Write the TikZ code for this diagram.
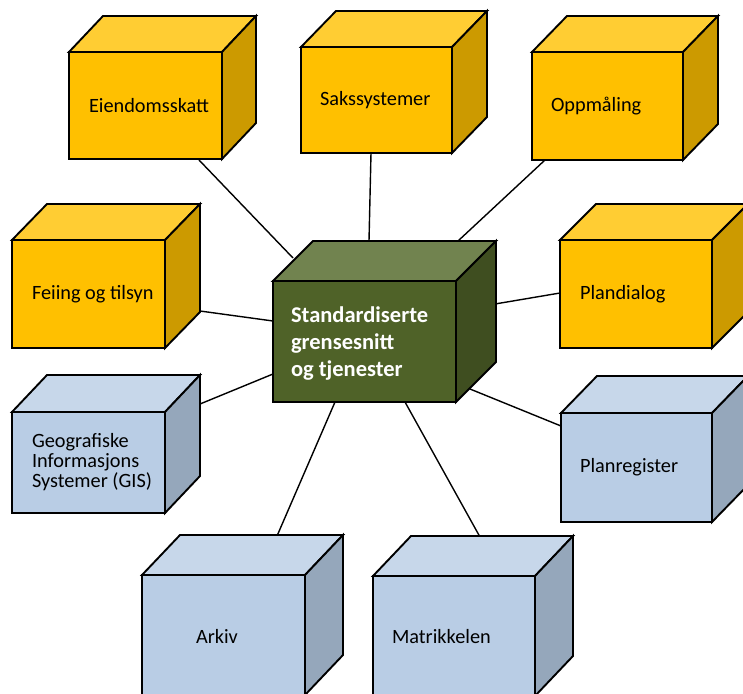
\documentclass[tikz,border=0pt]{standalone}
\usepackage{fontspec}
\setmainfont{Carlito}
\definecolor{orfront}{HTML}{FFC000}
\definecolor{ortop}{HTML}{FFCD33}
\definecolor{orside}{HTML}{CC9A00}
\definecolor{blfront}{HTML}{B9CDE5}
\definecolor{bltop}{HTML}{C7D7EA}
\definecolor{blside}{HTML}{95A7BB}
\definecolor{grfront}{HTML}{4F6228}
\definecolor{grtop}{HTML}{71834F}
\definecolor{grside}{HTML}{3F4E20}
\tikzset{
  edge/.style={draw=black, line width=1.9pt, line join=miter},
  face/.style={edge, inner sep=0pt, outer sep=0pt, anchor=north west, align=left,
     font=\fontsize{20.3}{20}\selectfont, text=black},
  conn/.style={draw=black, line width=1.4pt},
}
% #1 name, #2 x, #3 y, #4 w, #5 h, #6 dx, #7 dy, #8 colour prefix, #9 label node
\newcommand{\Cube}[9]{%
  \draw[edge, fill=#8top] (#2,#3) -- ++(#6,-#7) -- ++(#4,0) -- ++(-#6,#7) -- cycle;
  \draw[edge, fill=#8side] (#2+#4,#3) -- ++(#6,-#7) -- ++(0,#5) -- ++(-#6,#7) -- cycle;
  \node[face, fill=#8front, minimum width=#4, minimum height=#5] (#1) at (#2,#3) {};
  #9
}
\begin{document}
\begin{tikzpicture}[x=1pt,y=-1pt]
\clip (0,0) rectangle (743,693);
\fill[white] (0,0) rectangle (743,693);
% connector end points
\coordinate (eien-a) at (199,160);  \coordinate (eien-b) at (293,258);
\coordinate (sak-a)  at (371,153);  \coordinate (sak-b)  at (369,241);
\coordinate (opp-a)  at (545,160);  \coordinate (opp-b)  at (458,241);
\coordinate (fei-a)  at (200,311);  \coordinate (fei-b)  at (273,321);
\coordinate (pd-a)   at (560,293);  \coordinate (pd-b)   at (495,304);
\coordinate (gis-a)  at (200,404);  \coordinate (gis-b)  at (273,374);
\coordinate (pr-a)   at (561,426);  \coordinate (pr-b)   at (470,389);
\coordinate (ark-a)  at (277,536);  \coordinate (ark-b)  at (335,402);
\coordinate (mat-a)  at (480,537);  \coordinate (mat-b)  at (405,402);
\foreach \n in {eien,sak,opp,fei,pd,gis,pr,ark,mat}
  \draw[conn] (\n-a) -- (\n-b);
% cubes
\Cube{eien}{69}{52}{153}{107}{34}{36}{or}{\node[face,draw=none,anchor=west] (eien-t) at ([xshift=20pt]eien.west) {Eiendomsskatt};}
\Cube{sak}{301}{47}{151}{106}{35}{36}{or}{\node[face,draw=none,anchor=west] (sak-t) at ([xshift=19pt]sak.west) {Sakssystemer};}
\Cube{opp}{532}{52}{151}{108}{35}{36}{or}{\node[face,draw=none,anchor=west] (opp-t) at ([xshift=19pt]opp.west) {Oppmåling};}
\Cube{fei}{12}{240}{153}{108}{35}{36}{or}{\node[face,draw=none,anchor=west] (fei-t) at ([xshift=20pt]fei.west) {Feiing og tilsyn};}
\Cube{pd}{560}{240}{152}{108}{36}{36}{or}{\node[face,draw=none,anchor=west] (pd-t) at ([xshift=20pt]pd.west) {Plandialog};}
\Cube{gis}{12}{412}{153}{101}{35}{37}{bl}{\node[face,draw=none,anchor=west] (gis-t) at ([xshift=20pt]gis.west) {Geografiske\\Informasjons\\Systemer (GIS)};}
\Cube{pr}{561}{413}{151}{109}{36}{37}{bl}{\node[face,draw=none,anchor=west] (pr-t) at ([xshift=19pt]pr.west) {Planregister};}
\Cube{ark}{142}{575}{163}{120}{38}{40}{bl}{\node[face,draw=none,anchor=west] (ark-t) at ([xshift=54pt,yshift=-1pt]ark.west) {Arkiv};}
\Cube{mat}{373}{576}{162}{120}{38}{40}{bl}{\node[face,draw=none,anchor=west] (mat-t) at ([xshift=19pt,yshift=-1pt]mat.west) {Matrikkelen};}
\Cube{std}{273}{281}{183}{121}{40}{40}{gr}{\node[face,draw=none,anchor=west,text=white,font=\fontsize{22.5}{27}\selectfont\bfseries] (std-t) at ([xshift=18pt,yshift=-2pt]std.west) {Standardiserte\\grensesnitt\\og tjenester};}
\end{tikzpicture}
\end{document}
